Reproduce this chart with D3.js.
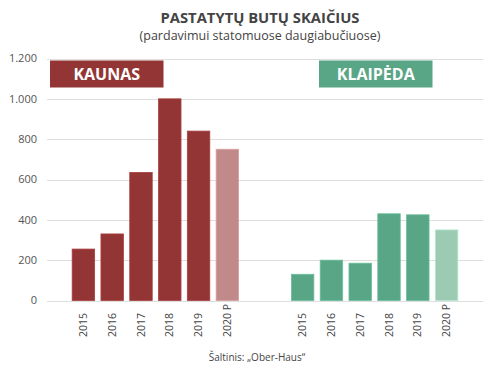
<!DOCTYPE html>
<html>
<head>
<meta charset="utf-8">
<script src="https://cdn.jsdelivr.net/npm/d3@7"></script>
<style>
  body { margin: 0; background: #fff; }
  svg text { font-family: "Open Sans", sans-serif; }
</style>
</head>
<body>
<div id="chart"></div>
<script>
// data
var cities = ["KAUNAS", "KLAIPĖDA"];
var years = ["2015", "2016", "2017", "2018", "2019", "2020 P"];
var kaunas = [255, 330, 635, 1000, 840, 750];
var klaipeda = [130, 200, 185, 430, 425, 350];
var yTicks = [0, 200, 400, 600, 800, 1000, 1200];

var series = [kaunas, klaipeda];
var colors = { "KAUNAS": ["#933535", "#c08a8a"], "KLAIPĖDA": ["#59a686", "#9ccab3"] };

var width = 500, height = 373;
var svg = d3.select("#chart").append("svg")
    .attr("width", width)
    .attr("height", height);

var y = d3.scaleLinear().domain([0, 1200]).range([300.5, 58.5]);

var groupX = d3.scaleBand().domain(cities).range([69, 461]).paddingInner(0.212);
var x = d3.scaleBand().domain(years).range([0, groupX.bandwidth()])
    .paddingInner(0.22).paddingOuter(0.11);

// gridlines
svg.append("g").selectAll("line")
    .data(yTicks)
    .enter().append("line")
    .attr("x1", 47).attr("x2", 483)
    .attr("y1", function(d) { return Math.round(y(d)) + 0.5; })
    .attr("y2", function(d) { return Math.round(y(d)) + 0.5; })
    .attr("stroke", "#dedede")
    .attr("stroke-width", 1);

// y labels
var yFormat = function(d) { return d3.format(",")(d).replace(",", "."); };
svg.append("g").selectAll("text")
    .data(yTicks)
    .enter().append("text")
    .attr("x", 37)
    .attr("y", function(d) { return y(d); })
    .attr("dy", "0.35em")
    .attr("text-anchor", "end")
    .attr("font-size", 11)
    .attr("fill", "#555")
    .text(yFormat);

// bars per city
var groups = svg.selectAll(".city")
    .data(cities)
    .enter().append("g")
    .attr("class", "city")
    .attr("transform", function(d) { return "translate(" + groupX(d) + ",0)"; });

groups.selectAll("rect.bar")
    .data(function(c, i) {
      return series[i].map(function(v, j) { return { city: c, year: years[j], value: v }; });
    })
    .enter().append("rect")
    .attr("class", "bar")
    .attr("x", function(d) { return x(d.year); })
    .attr("width", x.bandwidth())
    .attr("y", function(d) { return y(d.value); })
    .attr("height", function(d) { return y(0) - y(d.value); })
    .attr("fill", function(d) { return colors[d.city][d.year == "2020 P" ? 1 : 0]; })
    .attr("stroke", function(d) { return d3.color(colors[d.city][d.year == "2020 P" ? 1 : 0]).brighter(0.4); })
    .attr("stroke-width", 0.8);

// year labels, rotated, aligned at the bottom
groups.selectAll("text.year")
    .data(years)
    .enter().append("text")
    .attr("class", "year")
    .attr("transform", function(d) {
      return "translate(" + (x(d) + x.bandwidth() / 2) + ",337) rotate(-90)";
    })
    .attr("dy", "0.35em")
    .attr("text-anchor", "start")
    .attr("font-size", 10.5)
    .attr("fill", "#444")
    .text(function(d) { return d; });

// city label boxes
var boxX = { "KAUNAS": 50, "KLAIPĖDA": 319 };
groups.each(function(c) {
  var g = d3.select(this);
  var bx = boxX[c] - groupX(c);
  g.append("rect")
    .attr("x", bx).attr("y", 60.5)
    .attr("width", 113.5).attr("height", 27)
    .attr("fill", colors[c][0]);
  g.append("text")
    .attr("x", bx + 56.75).attr("y", 80)
    .attr("text-anchor", "middle")
    .attr("font-size", 16)
    .attr("font-weight", "bold")
    .attr("fill", "#fff")
    .text(c);
});

// titles
svg.append("text")
    .attr("x", 260).attr("y", 22.5)
    .attr("text-anchor", "middle")
    .attr("font-size", 15)
    .attr("font-weight", "bold")
    .attr("fill", "#444")
    .attr("textLength", 199)
    .attr("lengthAdjust", "spacingAndGlyphs")
    .text("PASTATYTŲ BUTŲ SKAIČIUS");

svg.append("text")
    .attr("x", 260).attr("y", 39.5)
    .attr("text-anchor", "middle")
    .attr("font-size", 12.5)
    .attr("fill", "#444")
    .text("(pardavimui statomuose daugiabučiuose)");

svg.append("text")
    .attr("x", 257).attr("y", 361)
    .attr("text-anchor", "middle")
    .attr("font-size", 10)
    .attr("fill", "#444")
    .text("Šaltinis: „Ober-Haus“");
</script>
</body>
</html>
